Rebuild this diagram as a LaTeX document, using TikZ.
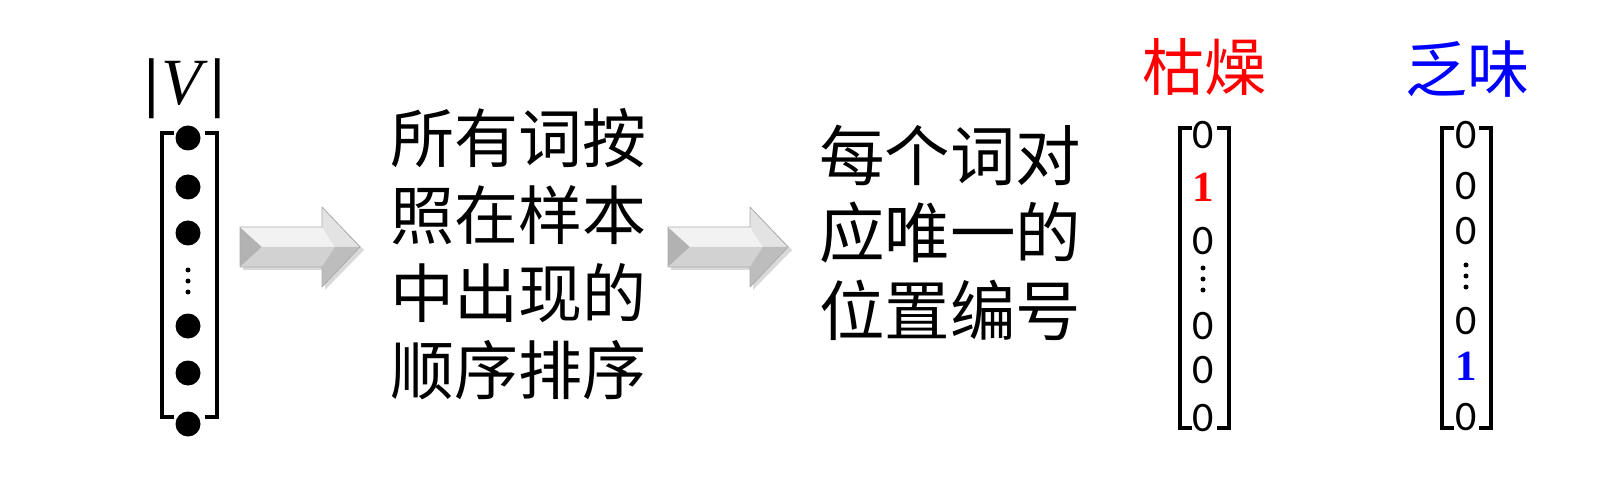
\documentclass[tikz,border=0pt]{standalone}
\usepackage{fontspec}
\newfontfamily\cjk{Noto Sans CJK SC}
\newfontfamily\digitfont{Carlito}
\newfontfamily\onefont{Liberation Serif}
\definecolor{wred}{RGB}{255,0,0}
\definecolor{wblue}{RGB}{0,0,255}
\tikzset{
  brk/.style={line width=4pt, line cap=butt, line join=miter},
  bigdot/.style={circle, fill=black, inner sep=0pt, minimum size=25pt},
  smalldot/.style={circle, fill=black, inner sep=0pt, minimum size=5pt},
  zero/.style={inner sep=0pt, font=\digitfont\fontsize{42}{42}\selectfont},
  one/.style={inner sep=0pt, font=\onefont\bfseries\fontsize{43}{43}\selectfont},
  cjkline/.style={inner sep=0pt, anchor=base west, font=\cjk\fontsize{64}{64}\selectfont},
  cjklineb/.style={inner sep=0pt, anchor=base west, font=\cjk\fontsize{65.5}{65.5}\selectfont},
  wordtitle/.style={inner sep=0pt, anchor=base west, font=\cjk\fontsize{62}{62}\selectfont},
  bevelarrow/.pic={
    \fill[black, opacity=0.15] (3,-17) -- (85,-17) -- (85,-37) -- (124,3) -- (85,43) -- (85,23) -- (3,23) -- cycle;
    \fill[gray!60] (0,-20) -- (22,0) -- (0,20) -- cycle;
    \fill[gray!10] (0,-20) -- (82,-20) -- (95,0) -- (22,0) -- cycle;
    \fill[gray!35] (0,20) -- (22,0) -- (95,0) -- (82,20) -- cycle;
    \fill[gray!22] (82,-40) -- (120,0) -- (95,0) -- (82,-20) -- cycle;
    \fill[gray!52] (82,40) -- (120,0) -- (95,0) -- (82,20) -- cycle;
    \draw[gray!65, line width=0.8pt, line join=round] (0,-20) -- (82,-20) -- (82,-40) -- (120,0) -- (82,40) -- (82,20) -- (0,20) -- cycle;
  }
}
\begin{document}
\begin{tikzpicture}[x=1pt,y=-1pt]
\useasboundingbox (0,0) rectangle (1624,486);

% left vector |V|
\node[inner sep=0pt, font=\onefont\fontsize{66}{66}\selectfont] (vlabel) at (185,89) {\textbf{|}\kern2pt\textit{V}\kern3pt\textbf{|}};
\draw[brk] (174,133) -- (162,133) -- (162,417) -- (174,417);
\draw[brk] (205,133) -- (217,133) -- (217,417) -- (205,417);
\node[bigdot] (d1) at (188,138) {};
\node[bigdot] (d2) at (188,187) {};
\node[bigdot] (d3) at (188,233) {};
\node[smalldot] (e1) at (188,270) {};
\node[smalldot] (e2) at (188,281) {};
\node[smalldot] (e3) at (188,292) {};
\node[bigdot] (d4) at (188,326) {};
\node[bigdot] (d5) at (188,373) {};
\node[bigdot] (d6) at (188,424) {};

% arrows
\pic (arrowA) at (240,247) {bevelarrow};
\pic (arrowB) at (668,247) {bevelarrow};

% text block 1
\node[cjkline] (ta) at (390,163) {所有词按};
\node[cjkline] (tb) at (390,240) {照在样本};
\node[cjkline] (tc) at (390,317) {中出现的};
\node[cjkline] (td) at (390,394) {顺序排序};

% text block 2
\node[cjklineb] (ua) at (819,181) {每个词对};
\node[cjklineb] (ub) at (819,258) {应唯一的};
\node[cjklineb] (uc) at (819,335) {位置编号};

% vector 枯燥
\node[wordtitle, text=wred] (w1) at (1142,91) {枯燥};
\draw[brk] (1192,128) -- (1180,128) -- (1180,428) -- (1192,428);
\draw[brk] (1217,128) -- (1229,128) -- (1229,428) -- (1217,428);
\node[zero] (a1) at (1203,135) {0};
\node[one, text=wred] (a2) at (1203,187) {1};
\node[zero] (a3) at (1203,241) {0};
\node[smalldot] (ad1) at (1203,268) {};
\node[smalldot] (ad2) at (1203,279) {};
\node[smalldot] (ad3) at (1203,290) {};
\node[zero] (a4) at (1203,326) {0};
\node[zero] (a5) at (1203,370) {0};
\node[zero] (a6) at (1203,418) {0};

% vector 乏味
\node[wordtitle, text=wblue] (w2) at (1405,93) {乏味};
\draw[brk] (1454,128) -- (1442,128) -- (1442,428) -- (1454,428);
\draw[brk] (1479,128) -- (1491,128) -- (1491,428) -- (1479,428);
\node[zero] (b1) at (1466,135) {0};
\node[zero] (b2) at (1466,186) {0};
\node[zero] (b3) at (1466,231) {0};
\node[smalldot] (bd1) at (1466,265) {};
\node[smalldot] (bd2) at (1466,276) {};
\node[smalldot] (bd3) at (1466,287) {};
\node[zero] (b4) at (1466,321) {0};
\node[one, text=wblue] (b5) at (1466,366) {1};
\node[zero] (b6) at (1466,417) {0};
\end{tikzpicture}
\end{document}
